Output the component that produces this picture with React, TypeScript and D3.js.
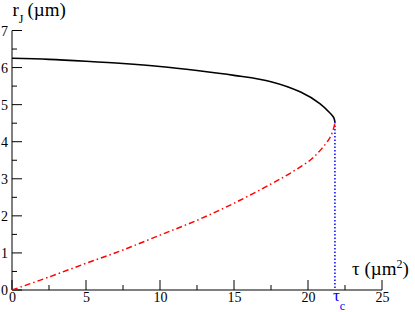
import React from "react";
import * as d3 from "d3";

// Upper (stable) branch, black solid
const tauUpper = [0, 2.5, 5, 7.5, 10, 12.5, 15, 17.5, 19.5, 20.8, 21.5, 21.74, 21.82];
const rUpper = [6.25, 6.22, 6.17, 6.11, 6.03, 5.92, 5.79, 5.62, 5.34, 5.03, 4.77, 4.65, 4.53];

// Lower (unstable) branch, red dash-dot
const tauLower = [0, 2.5, 5, 7.5, 10, 12.5, 15, 17.5, 19, 20.2, 20.9, 21.5, 21.76, 21.82];
const rLower = [0, 0.35, 0.72, 1.08, 1.48, 1.88, 2.34, 2.86, 3.2, 3.52, 3.8, 4.12, 4.4, 4.53];

const tauC = 21.82;
const rC = 4.53;

const xMajor = [0, 5, 10, 15, 20, 25];
const xMinor = [2.5, 7.5, 12.5, 17.5, 22.5];
const yMajor = [0, 1, 2, 3, 4, 5, 6, 7];
const yMinor = [0.5, 1.5, 2.5, 3.5, 4.5, 5.5, 6.5];

const W = 415;
const H = 312;

function T(props: any) {
  const { size, children, ...rest } = props;
  return (
    <text
      {...rest}
      fontFamily="Liberation Serif"
      style={{ font: `${size}px "Liberation Serif"` }}
    >
      {children}
    </text>
  );
}

export default function App() {
  const x = d3.scaleLinear().domain([0, 25]).range([12, 382]);
  const y = d3.scaleLinear().domain([0, 7]).range([290, 30.5]);

  const line = d3
    .line<[number, number]>()
    .x((d) => x(d[0]))
    .y((d) => y(d[1]))
    .curve(d3.curveCatmullRom.alpha(0.5));

  const upper = tauUpper.map((t, i) => [t, rUpper[i]] as [number, number]);
  const lower = tauLower.map((t, i) => [t, rLower[i]] as [number, number]);

  return (
    <svg width={W} height={H} style={{ position: "absolute", left: 0, top: 0, background: "#fff" }}>
      <rect x={0} y={0} width={W} height={H} fill="#fff" />
      {/* axes */}
      <line x1={x(0)} x2={x(25)} y1={y(0)} y2={y(0)} stroke="#000" strokeWidth={1} />
      <line x1={x(0)} x2={x(0)} y1={y(0)} y2={y(7)} stroke="#000" strokeWidth={1} />
      {xMajor.map((v) => (
        <line key={"xM" + v} x1={x(v)} x2={x(v)} y1={y(0)} y2={y(0) - 10} stroke="#000" strokeWidth={1} />
      ))}
      {xMinor.map((v) => (
        <line key={"xm" + v} x1={x(v)} x2={x(v)} y1={y(0)} y2={y(0) - 5} stroke="#000" strokeWidth={1} />
      ))}
      {yMajor.map((v) => (
        <line key={"yM" + v} x1={x(0)} x2={x(0) + 10} y1={y(v)} y2={y(v)} stroke="#000" strokeWidth={1} />
      ))}
      {yMinor.map((v) => (
        <line key={"ym" + v} x1={x(0)} x2={x(0) + 5} y1={y(v)} y2={y(v)} stroke="#000" strokeWidth={1} />
      ))}
      {xMajor.map((v) => (
        <T key={"xl" + v} size={14} x={x(v) + 0.5} y={302} textAnchor="middle" fill="#000">
          {String(v)}
        </T>
      ))}
      {yMajor.map((v) => (
        <T key={"yl" + v} size={14} x={8} y={y(v) + 5} textAnchor="end" fill="#000">
          {String(v)}
        </T>
      ))}

      {/* curves */}
      <line
        x1={x(tauC)}
        x2={x(tauC)}
        y1={y(rC)}
        y2={y(0)}
        stroke="#0000ff"
        strokeWidth={1.5}
        strokeDasharray="1.5,2"
      />
      <path d={line(lower) || ""} fill="none" stroke="#ff0000" strokeWidth={1.5} strokeDasharray="6,3,1.5,3" />
      <path d={line(upper) || ""} fill="none" stroke="#000" strokeWidth={1.6} />

      {/* axis titles */}
      <T size={19} x={12.5} y={16} fill="#000">
        r<tspan fontSize={12} dy={7}>J</tspan>
        <tspan dy={-7} dx={4}>(µm)</tspan>
      </T>

      <T size={19} x={352} y={275} fill="#000">
        τ (µm<tspan fontSize={12} dy={-7}>2</tspan>
        <tspan dy={7}>)</tspan>
      </T>

      <T size={17} x={333} y={301} fill="#0000ff">
        τ<tspan fontSize={12} dy={8.5}>c</tspan>
      </T>
    </svg>
  );
}
